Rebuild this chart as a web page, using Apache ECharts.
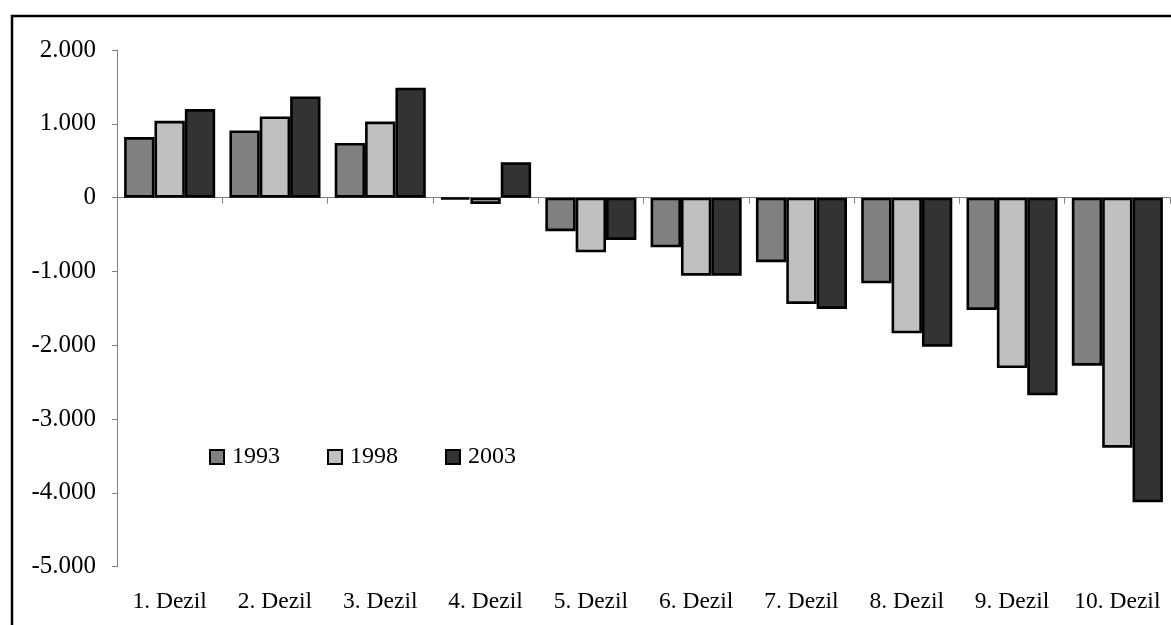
<!DOCTYPE html>
<html>
<head>
<meta charset="utf-8">
<script src="https://cdn.jsdelivr.net/npm/echarts@6/dist/echarts.min.js"></script>
<style>
  html, body { margin: 0; padding: 0; background: #fff; }
  #chart { width: 1171px; height: 625px; }
</style>
</head>
<body>
<div id="chart"></div>
<script>
// Einkommensveränderung nach Dezilen
const categories = ['1. Dezil', '2. Dezil', '3. Dezil', '4. Dezil', '5. Dezil',
                    '6. Dezil', '7. Dezil', '8. Dezil', '9. Dezil', '10. Dezil'];
const years = ['1993', '1998', '2003'];
const values1993 = [820, 910, 740, -25, -455, -672, -875, -1160, -1522, -2276];
const values1998 = [1040, 1100, 1030, -85, -740, -1057, -1440, -1838, -2308, -3388];
const values2003 = [1200, 1370, 1490, 480, -573, -1057, -1508, -2019, -2678, -4128];
const yTicks = { min: -5000, max: 2000, step: 1000 };
const colors = ['#808080', '#c0c0c0', '#333333'];

const FONT = '"Liberation Serif", "Times New Roman", serif';

// German number format: 1.000, -2.000
function deNumber(v) {
  const s = Math.abs(v).toString().replace(/\B(?=(\d{3})+(?!\d))/g, '.');
  return (v < 0 ? '-' : '') + s;
}

const chart = echarts.init(document.getElementById('chart'), null, { renderer: 'canvas' });

const seriesData = [values1993, values1998, values2003];

chart.setOption({
  backgroundColor: '#ffffff',
  animation: false,
  graphic: [{
    type: 'rect',
    shape: { x: 12, y: 16, width: 1200, height: 700 },
    style: { fill: 'none', stroke: '#000', lineWidth: 2.5 },
    z: 100
  }],
  grid: { left: 117, right: 1, top: 50, bottom: 58.3, containLabel: false },
  legend: {
    data: years,
    left: 209,
    top: 445,
    padding: 0,
    itemWidth: 14,
    itemHeight: 14,
    itemGap: 47,
    icon: 'rect',
    textStyle: { fontFamily: FONT, fontSize: 24, color: '#000', padding: [0, 0, 0, 3] },
    itemStyle: { borderColor: '#000', borderWidth: 2 }
  },
  xAxis: [{
    type: 'category',
    data: categories,
    position: 'bottom',
    axisLine: { onZero: true, lineStyle: { color: '#808080', width: 1 } },
    axisTick: { show: true, length: 6, inside: false, lineStyle: { color: '#808080' } },
    axisLabel: { show: false },
    splitLine: { show: false }
  }, {
    type: 'category',
    data: categories,
    position: 'bottom',
    axisLine: { show: false },
    axisTick: { show: false },
    axisLabel: { show: true, margin: 23, fontFamily: FONT, fontSize: 23.5, color: '#000', interval: 0 },
    splitLine: { show: false }
  }],
  yAxis: {
    type: 'value',
    min: yTicks.min,
    max: yTicks.max,
    interval: yTicks.step,
    axisLine: { show: true, lineStyle: { color: '#808080', width: 1 } },
    axisTick: { show: true, length: 5, lineStyle: { color: '#808080' } },
    axisLabel: { margin: 21, fontFamily: FONT, fontSize: 25, color: '#000', formatter: deNumber },
    splitLine: { show: false }
  },
  series: years.map((y, i) => ({
    name: y,
    type: 'bar',
    xAxisIndex: 0,
    data: seriesData[i],
    barGap: '0%',
    barCategoryGap: '13.5%',
    itemStyle: { color: colors[i], borderColor: '#000', borderWidth: 2.6 }
  }))
});
</script>
</body>
</html>
